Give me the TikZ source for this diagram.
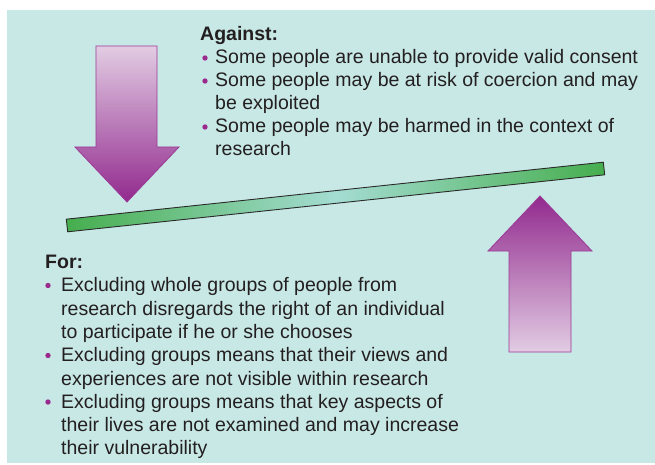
\documentclass[tikz,border=0pt]{standalone}
\usepackage{fontspec}
\setmainfont{Liberation Sans}
\begin{document}
\begin{tikzpicture}[x=1pt,y=-1pt,
  txt/.style={anchor=base west,inner sep=0pt,text=textgray,font=\fontsize{19.5}{23}\selectfont},
  head/.style={txt,font=\fontsize{19.5}{23}\selectfont\bfseries},
  bul/.style={circle,fill=bulletpurple,inner sep=0pt,minimum size=5.4pt},
  arrowline/.style={draw=arrowedge,line width=0.8pt,line join=miter}]
\definecolor{bg}{HTML}{C8E8E6}
\definecolor{textgray}{HTML}{231F20}
\definecolor{bulletpurple}{HTML}{9B2A8F}
\definecolor{arrowdark}{HTML}{922A8E}
\definecolor{arrowlight}{HTML}{E2CCE3}
\definecolor{arrowedge}{HTML}{9A3A96}
\definecolor{beamgreen}{HTML}{46AE4E}
\definecolor{beamlight}{HTML}{A4DCD2}
\definecolor{beamedge}{HTML}{2A2A2A}
\useasboundingbox (0,0) rectangle (655,465);
\fill[bg] (7,10) rectangle (655,463);
% down arrow
\shade[top color=arrowlight,bottom color=arrowdark]
  (96,46) -- (157,46) -- (157,147) -- (179,147) -- (127,202) -- (75,147) -- (96,147) -- cycle;
\draw[arrowline] (96,46) -- (157,46) -- (157,147) -- (179,147) -- (127,202) -- (75,147) -- (96,147) -- cycle;
% up arrow
\shade[top color=arrowdark,bottom color=arrowlight]
  (540,196) -- (592,251) -- (571,251) -- (571,352) -- (509,352) -- (509,251) -- (488,251) -- cycle;
\draw[arrowline] (540,196) -- (592,251) -- (571,251) -- (571,352) -- (509,352) -- (509,251) -- (488,251) -- cycle;
% beam
\shade[left color=beamgreen,right color=beamgreen,middle color=beamlight]
  (66.3,219.2) -- (603.3,162.2) -- (604.7,174.8) -- (67.7,231.8) -- cycle;
\draw[beamedge,line width=0.9pt] (66.3,219.2) -- (603.3,162.2) -- (604.7,174.8) -- (67.7,231.8) -- cycle;
% Against
\node[head] (ah) at (200,41) {Against:};
\node[bul] (ab1) at (205,58) {};
\node[txt] (a1) at (215,64) {Some people are unable to provide valid consent};
\node[bul] (ab2) at (205,81) {};
\node[txt] (a2) at (215,87) {Some people may be at risk of coercion and may};
\node[txt] (a3) at (215,110) {be exploited};
\node[bul] (ab3) at (205,127) {};
\node[txt] (a4) at (215,133) {Some people may be harmed in the context of};
\node[txt] (a5) at (215,156) {research};
% For
\node[head] (fh) at (45,268) {For:};
\node[bul] (fb1) at (48,285.5) {};
\node[txt] (f1) at (61,291.5) {Excluding whole groups of people from};
\node[txt] (f2) at (61,315) {research disregards the right of an individual};
\node[txt] (f3) at (61,338) {to participate if he or she chooses};
\node[bul] (fb2) at (48,355.5) {};
\node[txt] (f4) at (61,361.5) {Excluding groups means that their views and};
\node[txt] (f5) at (61,385) {experiences are not visible within research};
\node[bul] (fb3) at (48,402) {};
\node[txt] (f6) at (61,408) {Excluding groups means that key aspects of};
\node[txt] (f7) at (61,431) {their lives are not examined and may increase};
\node[txt] (f8) at (61,454.5) {their vulnerability};
\end{tikzpicture}
\end{document}
